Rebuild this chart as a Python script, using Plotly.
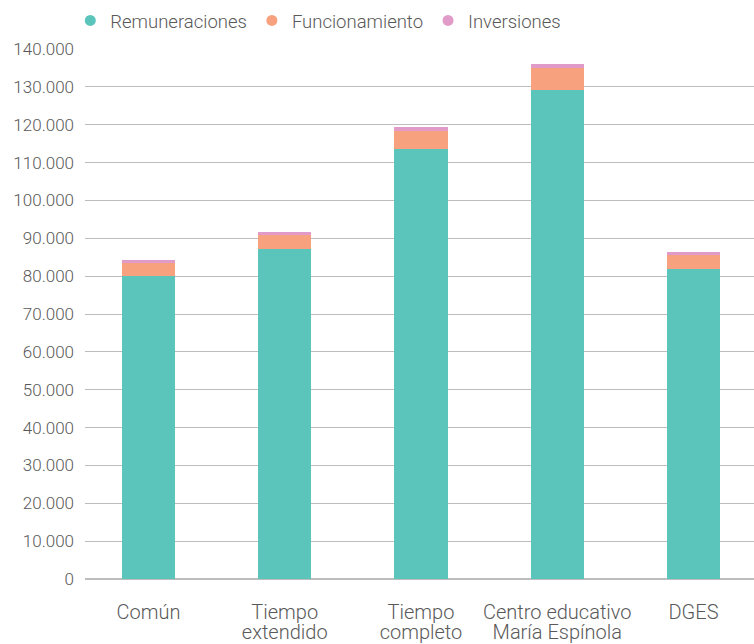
import plotly.graph_objects as go

# Gasto por estudiante según tipo de centro
linea1 = ["Común", "Tiempo", "Tiempo", "Centro educativo", "DGES"]
linea2 = ["", "extendido", "completo", "María Espínola", ""]
remuneraciones = [80100, 87200, 113600, 129200, 81900]
funcionamiento = [3400, 3700, 4800, 5800, 3700]
inversiones = [800, 800, 1100, 1000, 800]

series = [
    ("Remuneraciones", remuneraciones, "#5BC5BB"),
    ("Funcionamiento", funcionamiento, "#F7A17F"),
    ("Inversiones", inversiones, "#E09BC8"),
]

x_pos = list(range(len(linea1)))
x_rango = [-0.466, 4.444]

fig = go.Figure()
for nombre, valores, color in series:
    fig.add_trace(go.Bar(
        x=x_pos, y=valores, name=nombre, marker_color=color,
        marker_line_width=0, width=0.39, showlegend=False,
    ))
# legend entries drawn as round markers (on the second-line label axis)
for nombre, valores, color in series:
    fig.add_trace(go.Scatter(
        x=[None], y=[None], mode="markers", name=nombre, xaxis="x2",
        marker=dict(color=color, size=11, symbol="circle"),
    ))

gris = "#595959"
fuente = "Roboto"

eje_cat = dict(
    tickmode="array", tickvals=x_pos, range=x_rango, automargin=False,
    showgrid=False, zeroline=False, showline=False, ticks="",
    tickfont=dict(family=fuente, size=20, color=gris, weight=300),
)

fig.update_layout(
    barmode="stack",
    width=754, height=644,
    margin=dict(l=85, r=0, t=49, b=65),
    paper_bgcolor="white", plot_bgcolor="white",
    separators=",.",
    font=dict(family=fuente, size=17, color=gris, weight=300),
    legend=dict(orientation="h", x=-0.022, xanchor="left", y=1.053, yanchor="middle",
                font=dict(family=fuente, size=18.5, color=gris, weight=300),
                itemwidth=30, traceorder="normal"),
    xaxis=dict(eje_cat, ticktext=linea1, ticklabelstandoff=19),
    xaxis2=dict(eje_cat, ticktext=linea2, ticklabelstandoff=39,
                overlaying="x", anchor="y", side="bottom"),
    yaxis=dict(
        range=[0, 140000], dtick=10000, tickformat=",d", automargin=False,
        showgrid=True, gridcolor="#BDBDBD", gridwidth=1.3,
        zeroline=True, zerolinecolor="#BDBDBD", zerolinewidth=1.5,
        showline=False, ticks="", ticklabelstandoff=10,
    ),
)

fig.write_html("out.html")
